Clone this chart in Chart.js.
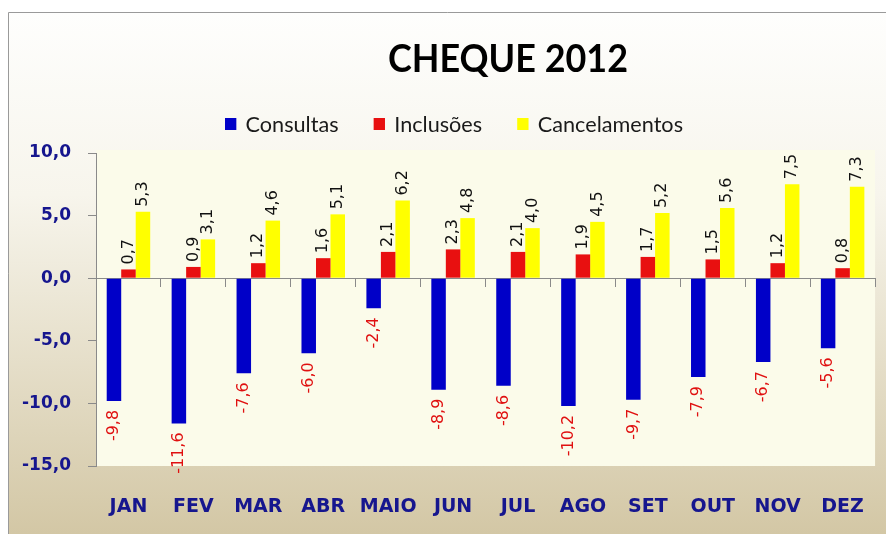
<!DOCTYPE html>
<html><head><meta charset="utf-8">
<script src="https://cdn.jsdelivr.net/npm/chart.js@4"></script>
<style>html,body{margin:0;padding:0;background:#fff;}canvas{display:block}</style>
</head><body>
<canvas id="c" width="886" height="534"></canvas>
<script>
const categories = ['JAN','FEV','MAR','ABR','MAIO','JUN','JUL','AGO','SET','OUT','NOV','DEZ'];
const consultas = [-9.8,-11.6,-7.6,-6.0,-2.4,-8.9,-8.6,-10.2,-9.7,-7.9,-6.7,-5.6];
const inclusoes = [0.7,0.9,1.2,1.6,2.1,2.3,2.1,1.9,1.7,1.5,1.2,0.8];
const cancelamentos = [5.3,3.1,4.6,5.1,6.2,4.8,4.0,4.5,5.2,5.6,7.5,7.3];
const seriesNames = ['Consultas','Inclusões','Cancelamentos'];
const yMin = -15, yMax = 10, yStep = 5;
const titleText = 'CHEQUE 2012';

const seriesColors = ['#0000c8','#e81010','#ffff00'];
const navy = '#16168e';
const axisGray = '#8a8a8a';
const fmt = v => v.toFixed(1).replace('.', ',');

const decor = {
  id: 'decor',
  beforeDraw(chart) {
    const ctx = chart.ctx, W = chart.width, H = chart.height, a = chart.chartArea;
    ctx.save();
    ctx.fillStyle = '#ffffff';
    ctx.fillRect(0, 0, W, H);
    const g = ctx.createLinearGradient(0, 12, 0, H);
    g.addColorStop(0, '#fefefd');
    g.addColorStop(0.35, '#f7f5ec');
    g.addColorStop(1, '#d3c7a5');
    ctx.fillStyle = g;
    ctx.fillRect(8, 12, W - 8, H - 12);
    ctx.strokeStyle = '#9a9a9a';
    ctx.lineWidth = 1;
    ctx.beginPath();
    ctx.moveTo(8.5, H);
    ctx.lineTo(8.5, 12.5);
    ctx.lineTo(W, 12.5);
    ctx.stroke();
    ctx.fillStyle = '#fbfbea';
    ctx.fillRect(a.left, a.top - 3, a.right - a.left, a.bottom - a.top + 3);
    ctx.restore();
  },
  afterDatasetsDraw(chart) {
    const ctx = chart.ctx;
    ctx.save();
    ctx.font = '16px "DejaVu Sans"';
    ctx.textBaseline = 'middle';
    chart.data.datasets.forEach((ds, di) => {
      const meta = chart.getDatasetMeta(di);
      meta.data.forEach((el, i) => {
        const v = ds.data[i];
        ctx.save();
        if (v >= 0) {
          ctx.translate(el.x, el.y - 5);
          ctx.rotate(-Math.PI / 2);
          ctx.textAlign = 'left';
          ctx.fillStyle = '#111111';
        } else {
          ctx.translate(el.x, el.y + 9);
          ctx.rotate(-Math.PI / 2);
          ctx.textAlign = 'right';
          ctx.fillStyle = '#e01010';
        }
        ctx.fillText(fmt(v), 0, 0);
        ctx.restore();
      });
    });
    ctx.restore();
  },
  afterDraw(chart) {
    const ctx = chart.ctx;
    ctx.save();
    ctx.font = 'bold 38px Lato';
    ctx.fillStyle = '#000000';
    ctx.textAlign = 'center';
    ctx.textBaseline = 'alphabetic';
    const tw = ctx.measureText(titleText).width;
    ctx.save();
    ctx.translate(508, 72);
    ctx.scale(240 / tw, 1);
    ctx.fillText(titleText, 0, 0);
    ctx.restore();
    ctx.font = '21px Lato';
    ctx.textAlign = 'left';
    const box = 11, gapBox = 9, gapItem = 34;
    const widths = seriesNames.map(n => ctx.measureText(n).width);
    const total = widths.reduce((s, w) => s + w, 0) + seriesNames.length * (box + gapBox) + gapItem * (seriesNames.length - 1);
    const sx = 458 / total;
    ctx.save();
    ctx.translate(225, 132);
    ctx.scale(sx, 1);
    let x = 0;
    seriesNames.forEach((n, i) => {
      ctx.fillStyle = seriesColors[i];
      ctx.fillRect(x, -14, box, 12);
      x += box + gapBox;
      ctx.fillStyle = '#1a1a1a';
      ctx.fillText(n, x, 0);
      x += widths[i] + gapItem;
    });
    ctx.restore();
    ctx.restore();
  }
};

new Chart(document.getElementById('c'), {
  type: 'bar',
  data: {
    labels: categories,
    datasets: [consultas, inclusoes, cancelamentos].map((d, i) => ({
      label: seriesNames[i],
      data: d,
      backgroundColor: seriesColors[i],
      borderWidth: 0,
      categoryPercentage: 0.67,
      barPercentage: 1.0
    }))
  },
  options: {
    responsive: false,
    animation: false,
    devicePixelRatio: 1,
    layout: { padding: { top: 153, right: 3, left: 0, bottom: 0 } },
    plugins: { legend: { display: false }, title: { display: false }, tooltip: { enabled: false } },
    scales: {
      x: {
        offset: true,
        grid: { display: false },
        border: { display: false },
        ticks: { color: navy, font: { family: 'DejaVu Sans', size: 19, weight: 'bold' }, padding: 22, maxRotation: 0, autoSkip: false },
        afterFit: s => { s.height = 68; }
      },
      x2: {
        axis: 'x',
        type: 'category',
        labels: categories,
        position: { y: 0 },
        offset: true,
        grid: { offset: true, drawOnChartArea: false, drawTicks: true, tickLength: 8, color: axisGray },
        border: { display: true, color: axisGray },
        ticks: { display: false }
      },
      y: {
        min: yMin, max: yMax,
        grid: { drawOnChartArea: false, tickLength: 8, color: axisGray },
        border: { color: axisGray },
        ticks: { stepSize: yStep, callback: v => fmt(v), color: navy, font: { family: 'DejaVu Sans', size: 17, weight: 'bold' }, padding: 17 },
        afterFit: s => { s.width = 96; }
      }
    }
  },
  plugins: [decor]
});
</script>
</body></html>
